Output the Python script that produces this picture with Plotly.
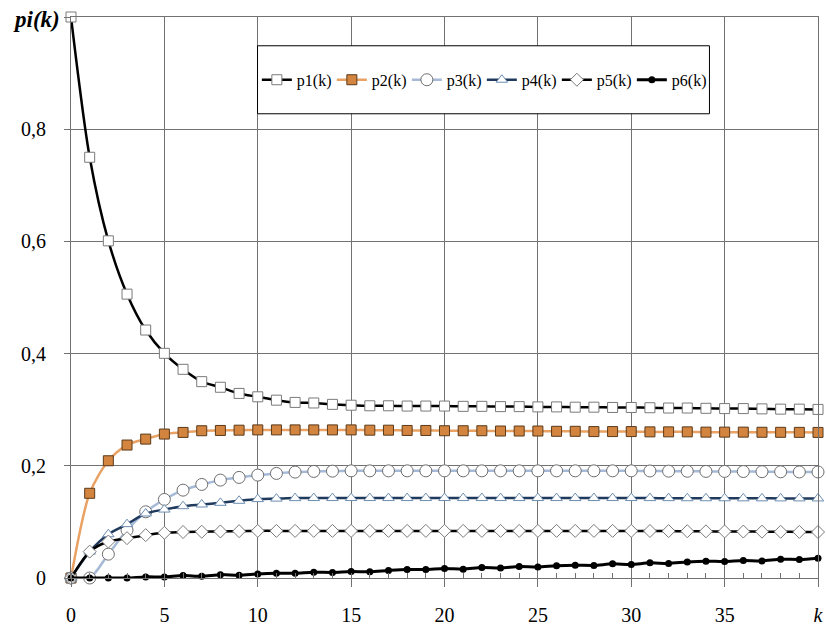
import plotly.graph_objects as go

k = list(range(41))

p1 = [1.0, 0.750, 0.601, 0.506, 0.442, 0.4005, 0.372, 0.350, 0.340, 0.329,
      0.323, 0.317, 0.313, 0.312, 0.3095, 0.308, 0.307, 0.307, 0.3065, 0.3065,
      0.3065, 0.306, 0.306, 0.3055, 0.3055, 0.305, 0.305, 0.3045, 0.3045, 0.304,
      0.304, 0.3035, 0.303, 0.303, 0.3025, 0.302, 0.302, 0.3015, 0.301, 0.301, 0.3005]
p2 = [0.0, 0.151, 0.209, 0.237, 0.2476, 0.2566, 0.2595, 0.2625, 0.263, 0.2635,
      0.264, 0.264, 0.264, 0.264, 0.264, 0.264, 0.2635, 0.2635, 0.263, 0.263,
      0.2625, 0.2625, 0.2625, 0.262, 0.262, 0.262, 0.2615, 0.2615, 0.261, 0.261,
      0.261, 0.2605, 0.2605, 0.2605, 0.260, 0.260, 0.260, 0.2598, 0.2597, 0.2596, 0.2595]
p3 = [0.0, 0.0, 0.0425, 0.0853, 0.118, 0.140, 0.1566, 0.1668, 0.1745, 0.1793,
      0.1834, 0.1864, 0.1888, 0.190, 0.1905, 0.191, 0.191, 0.191, 0.191, 0.191,
      0.191, 0.191, 0.191, 0.191, 0.191, 0.191, 0.191, 0.191, 0.191, 0.191,
      0.191, 0.1908, 0.1905, 0.1903, 0.190, 0.190, 0.1898, 0.1895, 0.1893, 0.189, 0.189]
p4 = [0.0, 0.047, 0.078, 0.096, 0.115, 0.122, 0.128, 0.131, 0.134, 0.1376,
      0.1406, 0.1415, 0.1424, 0.1425, 0.1425, 0.1425, 0.1425, 0.1425, 0.1425, 0.1425,
      0.1425, 0.1425, 0.1425, 0.1425, 0.1425, 0.1425, 0.1425, 0.1425, 0.1425, 0.1425,
      0.1425, 0.1424, 0.1423, 0.1422, 0.1422, 0.1421, 0.142, 0.142, 0.1419, 0.1419, 0.1418]
p5 = [0.0, 0.047, 0.065, 0.071, 0.0764, 0.0805, 0.082, 0.0825, 0.083, 0.0835,
      0.084, 0.084, 0.084, 0.084, 0.084, 0.084, 0.084, 0.084, 0.084, 0.084,
      0.084, 0.084, 0.084, 0.084, 0.084, 0.084, 0.084, 0.084, 0.084, 0.084,
      0.084, 0.0838, 0.0836, 0.0834, 0.0832, 0.083, 0.0828, 0.0826, 0.0824, 0.0822, 0.082]
p6 = [0.0, 0.0, 0.0, 0.0, 0.002, 0.002, 0.0045, 0.003, 0.006, 0.005,
      0.0073, 0.0086, 0.0086, 0.0103, 0.0098, 0.0116, 0.011, 0.0134, 0.0152, 0.0152,
      0.017, 0.0157, 0.0187, 0.018, 0.0205, 0.0198, 0.022, 0.0228, 0.0223, 0.0252,
      0.024, 0.027, 0.026, 0.0287, 0.030, 0.0294, 0.0312, 0.0305, 0.0335, 0.033, 0.0353]

names = ["p1(k)", "p2(k)", "p3(k)", "p4(k)", "p5(k)", "p6(k)"]

x_tickvals = [0, 5, 10, 15, 20, 25, 30, 35, 40]
x_ticktext = ["0", "5", "10", "15", "20", "25", "30", "35", "<i>k</i>"]
y_tickvals = [0, 0.2, 0.4, 0.6, 0.8, 1.0]
y_ticktext = ["0", "0,2", "0,4", "0,6", "0,8", ""]
y_title = "<b><i>pi(k)</i></b>"

styles = [
    dict(line=dict(color="#000000", width=2.5),
         marker=dict(symbol="square", size=10, color="#ffffff", line=dict(color="#7a7a7a", width=1))),
    dict(line=dict(color="#E9A263", width=2.5),
         marker=dict(symbol="square", size=10, color="#D3843F", line=dict(color="#5a3a1a", width=1))),
    dict(line=dict(color="#A6BAD7", width=2.5),
         marker=dict(symbol="circle", size=12, color="#ffffff", line=dict(color="#6e6e6e", width=1))),
    dict(line=dict(color="#1F3A5C", width=2.5),
         marker=dict(symbol="triangle-up", size=10, color="#ffffff", line=dict(color="#6d8db0", width=1))),
    dict(line=dict(color="#000000", width=2.5),
         marker=dict(symbol="diamond", size=10, color="#ffffff", line=dict(color="#7a7a7a", width=1))),
    dict(line=dict(color="#000000", width=3),
         marker=dict(symbol="circle", size=7, color="#000000", line=dict(color="#000000", width=0))),
]

fig = go.Figure()
for name, ys, st in zip(names, [p1, p2, p3, p4, p5, p6], styles):
    fig.add_trace(go.Scatter(
        x=k, y=ys, name=name, mode="lines+markers",
        line=dict(shape="spline", smoothing=0.8, **st["line"]),
        marker=st["marker"], cliponaxis=False,
    ))

fig.add_shape(type="rect", xref="paper", yref="paper",
              x0=0.2497, x1=0.8547, y0=0.8275, y1=0.9487,
              fillcolor="#ffffff", line=dict(color="#000000", width=1), layer="above")

fig.add_annotation(text=y_title, xref="paper", yref="paper", x=-0.0127, y=0.995,
                   xanchor="right", yanchor="middle", showarrow=False,
                   font=dict(family="Liberation Serif", size=23, color="#000000"))

fig.update_layout(
    width=826, height=628,
    margin=dict(l=71, r=8, t=17, b=50),
    paper_bgcolor="#ffffff", plot_bgcolor="#ffffff",
    font=dict(family="Liberation Serif", color="#000000", size=20),
    showlegend=True,
    legend=dict(orientation="h", x=0.55, y=0.888, xanchor="center", yanchor="middle",
                bgcolor="rgba(0,0,0,0)", borderwidth=0,
                font=dict(family="Liberation Serif", size=16, color="#000000"),
                itemwidth=30, entrywidth=30, entrywidthmode="pixels", tracegroupgap=0),
    xaxis=dict(range=[0, 40], tickvals=x_tickvals, ticktext=x_ticktext,
               automargin=False,
               showgrid=True, gridcolor="#727272", gridwidth=1,
               showline=True, linecolor="#727272", linewidth=1, mirror=True,
               ticks="outside", ticklen=8, tickcolor="#727272",
               ticklabelstandoff=11, zeroline=False,
               minor=dict(dtick=1, ticks="inside", ticklen=5, tickcolor="#727272", showgrid=False)),
    yaxis=dict(range=[0, 1], tickvals=y_tickvals, ticktext=y_ticktext,
               automargin=False,
               showgrid=True, gridcolor="#727272", gridwidth=1,
               showline=True, linecolor="#727272", linewidth=1, mirror=True,
               ticks="outside", ticklen=6, tickcolor="#727272",
               ticklabelstandoff=14, zeroline=False),
)

fig.write_html("out.html", config={"displayModeBar": False},
               post_script="document.body.style.margin='0px';")
